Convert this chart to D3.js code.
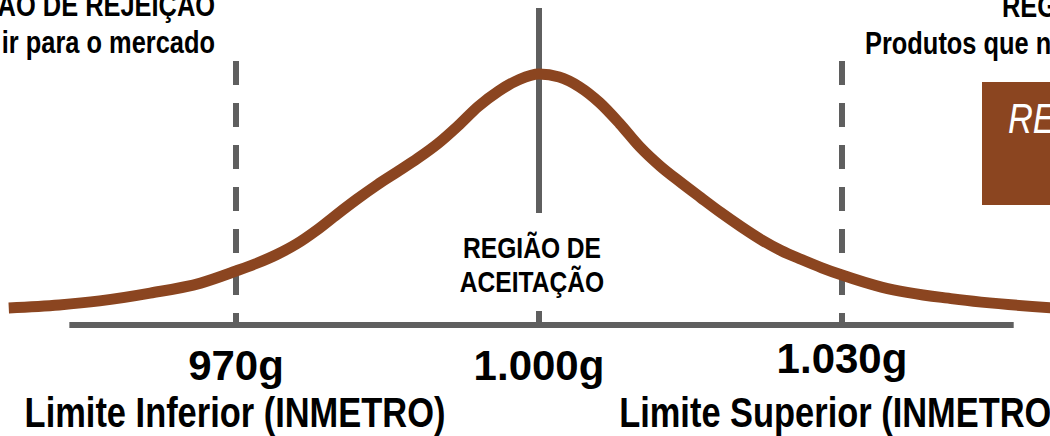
<!DOCTYPE html>
<html>
<head>
<meta charset="utf-8">
<script src="https://cdn.jsdelivr.net/npm/d3@7"></script>
<style>
  html, body { margin: 0; padding: 0; background: #ffffff; overflow: hidden; }
  svg { display: block; }
</style>
</head>
<body>
<svg id="chart" width="1050" height="436"></svg>
<script>
// ---- data ----
const weights = [947.5, 952.5, 956.5, 961.5, 966.5, 970, 972, 974, 976, 978, 980, 982, 984, 986, 988, 990,
                 992, 994, 996, 998, 1000, 1002, 1004, 1006, 1008, 1010, 1012, 1014, 1016, 1018, 1020,
                 1022, 1024, 1026, 1028, 1030, 1034, 1041, 1051];
const density = [6.8, 8.0, 9.6, 12.7, 16.7, 21.5, 24.5, 28.0, 32.3, 37.8, 44.1, 50.2, 55.9, 61.1, 66.4, 72.3,
                 79.4, 87.1, 93.2, 97.7, 100, 98.8, 94.9, 88.6, 80.2, 70.9, 63.3, 56.9, 50.8, 44.8, 39.2,
                 34.0, 29.6, 26.1, 22.8, 19.9, 15.0, 10.4, 6.8];
const limitValues = [970, 1000, 1030];
const tickLabels = ["970g", "1.000g", "1.030g"];
const limitLabels = ["Limite Inferior (INMETRO)", "", "Limite Superior (INMETRO)"];
const axisDomain = [953.5, 1047];
const regionTitle = "REGIÃO DE REJEIÇÃO";
const regionText = "Produtos que não podem ir para o mercado";
const acceptLines = ["REGIÃO DE", "ACEITAÇÃO"];
const boxText = "REJEITADO";

// ---- setup ----
const svg = d3.select("#chart");
const x = d3.scaleLinear().domain([970, 1030]).range([236, 842]);
const y = d3.scaleLinear().domain([0, 100]).range([325, 74]);
const gray = "#5f5f5f";
const brown = "#8b4520";

// font detection for narrow bold (Arial Narrow look)
function measure(fam) {
  const t = svg.append("text").attr("font-family", fam).attr("font-weight", "bold")
    .attr("font-size", 100).text("Limite Inferior");
  const w = t.node().getComputedTextLength();
  t.remove();
  return w;
}
const wN = measure("'Liberation Sans Narrow'");
const wR = measure("'Liberation Sans'");
const haveNarrow = Math.abs(wN / wR - 0.82) < 0.05;

function narrowText(parent, tx, ty, str, size, anchor, opts = {}) {
  const weight = opts.weight || "bold";
  const style = opts.style || "normal";
  const fill = opts.fill || "#000";
  if (haveNarrow) {
    return parent.append("text").attr("x", tx).attr("y", ty)
      .attr("font-family", "'Liberation Sans Narrow', 'Arial Narrow', sans-serif")
      .attr("font-weight", weight).attr("font-style", style)
      .attr("font-size", size).attr("text-anchor", anchor).attr("fill", fill).text(str);
  } else {
    const g = parent.append("g").attr("transform", `translate(${tx},${ty}) scale(0.82,1)`);
    return g.append("text").attr("x", 0).attr("y", 0)
      .attr("font-family", "'Liberation Sans', Arial, sans-serif")
      .attr("font-weight", weight).attr("font-style", style)
      .attr("font-size", size).attr("text-anchor", anchor).attr("fill", fill).text(str);
  }
}

// ---- horizontal axis line ----
svg.append("line")
  .attr("x1", x(axisDomain[0])).attr("x2", x(axisDomain[1]))
  .attr("y1", y(0)).attr("y2", y(0))
  .attr("stroke", gray).attr("stroke-width", 6);

// ---- dashed limit lines ----
[limitValues[0], limitValues[2]].forEach(v => {
  svg.append("line")
    .attr("x1", x(v)).attr("x2", x(v))
    .attr("y1", 61).attr("y2", y(0))
    .attr("stroke", gray).attr("stroke-width", 6)
    .attr("stroke-dasharray", "24 18");
});

// ---- centre line (nominal) ----
svg.append("line")
  .attr("x1", x(limitValues[1])).attr("x2", x(limitValues[1]))
  .attr("y1", 8).attr("y2", 213)
  .attr("stroke", gray).attr("stroke-width", 6);
svg.append("line")
  .attr("x1", x(limitValues[1])).attr("x2", x(limitValues[1]))
  .attr("y1", 311).attr("y2", y(0))
  .attr("stroke", gray).attr("stroke-width", 6);

// ---- distribution curve ----
const pts = weights.map((w, i) => [w, density[i]]);
const line = d3.line().x(d => x(d[0])).y(d => y(d[1])).curve(d3.curveMonotoneX);
svg.append("path")
  .attr("d", line(pts))
  .attr("fill", "none")
  .attr("stroke", brown)
  .attr("stroke-width", 11)
  .attr("stroke-linejoin", "round");

// ---- tick value labels ----
const tickY = [380, 380, 373];
limitValues.forEach((v, i) => {
  svg.append("text")
    .attr("x", x(v)).attr("y", tickY[i])
    .attr("text-anchor", "middle")
    .attr("font-family", "'Liberation Sans', Arial, sans-serif")
    .attr("font-weight", "bold")
    .attr("font-size", 42)
    .attr("fill", "#000")
    .text(tickLabels[i]);
});

// ---- limit labels ----
limitValues.forEach((v, i) => {
  if (!limitLabels[i]) return;
  narrowText(svg, x(v) - 1, 427, limitLabels[i], 42, "middle");
});

// ---- acceptance region label ----
narrowText(svg, 532, 258, acceptLines[0], 30, "middle");
narrowText(svg, 532, 292, acceptLines[1], 30, "middle");

// ---- rejection region labels (left, right-aligned) ----
narrowText(svg, 215, 16, regionTitle, 31, "end");
narrowText(svg, 215, 53, regionText, 31, "end");

// ---- rejection region labels (right) ----
narrowText(svg, 1002, 17, regionTitle, 31, "start");
narrowText(svg, 865, 54, regionText, 31, "start");

// ---- brown box ----
svg.append("rect")
  .attr("x", 982).attr("y", 82).attr("width", 200).attr("height", 123)
  .attr("fill", brown);
narrowText(svg, 1008, 133, boxText, 42, "start", { weight: "normal", style: "italic", fill: "#ffffff" });
</script>
</body>
</html>
